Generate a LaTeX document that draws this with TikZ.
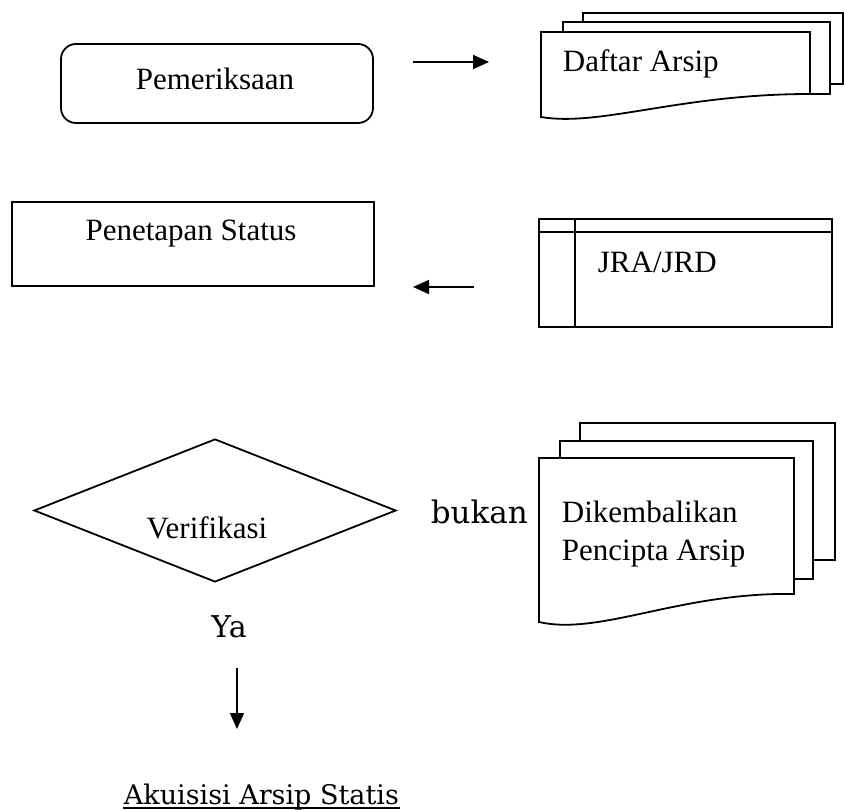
\documentclass[tikz,border=0pt]{standalone}
\usepackage{fontspec}
\setmainfont{Liberation Serif}
\newfontfamily\slabfont{DejaVu Serif}
\usetikzlibrary{arrows.meta}
\usetikzlibrary{shapes.geometric}

\begin{document}
\begin{tikzpicture}[x=1pt,y=-1pt,line width=1.8pt,>={Triangle[length=16pt,width=14pt]},
    txt/.style={inner sep=0pt,font=\fontsize{31}{38}\selectfont},
    slab/.style={inner sep=0pt,font=\fontsize{30}{36}\slabfont},
    box/.style={draw,inner sep=0pt},
    paper/.style={draw,fill=white}]
    \useasboundingbox (0,0) rectangle (844,810);

    % first row
    \node[box,rounded corners=15pt,minimum width=312pt,minimum height=79pt] (pem) at (217,83.5) {};
    \node[txt,anchor=base] (pemtxt) at (215,90) {Pemeriksaan};
    \draw[paper] (583,13) rectangle (843,84);
    \draw[paper] (563,22) rectangle (830,94);
    \draw[paper] (541,32) -- (810,32) -- (810,94) .. controls (680,94) and (600,127) .. (541,117) -- cycle;
    \node[txt,anchor=base west] (daftar) at (562,72) {Daftar Arsip};
    \coordinate (a1s) at (413,62);
    \coordinate (a1e) at (489,62);
    \draw[->] (a1s) -- (a1e);

    % second row
    \node[box,minimum width=362pt,minimum height=84pt] (penetapan) at (193,244) {};
    \node[txt,anchor=base] (pentxt) at (191,241) {Penetapan Status};
    \node[box,minimum width=293pt,minimum height=108pt] (jra) at (685.5,273) {};
    \draw ([yshift=-14pt]jra.north west) -- ([yshift=-14pt]jra.north east);
    \draw ([xshift=37pt]jra.north west) -- ([xshift=37pt]jra.south west);
    \node[txt,anchor=base west] (jratxt) at (597,273) {JRA/JRD};
    \coordinate (a2s) at (474,287);
    \coordinate (a2e) at (413,287);
    \draw[->] (a2s) -- (a2e);

    % third row
    \node[draw,diamond,minimum width=362pt,minimum height=143pt,inner sep=0pt] (verif) at (215,510.5) {};
    \node[txt,anchor=base] (veriftxt) at (207,538) {Verifikasi};
    \node[slab,font=\fontsize{31}{36}\slabfont,anchor=base west] (bukan) at (430,523) {bukan};
    \draw[paper] (580,423) rectangle (835,560);
    \draw[paper] (560,441) rectangle (813,579);
    \draw[paper] (539,458) -- (794,458) -- (794,594) .. controls (680,592) and (600,636) .. (539,622) -- cycle;
    \node[txt,anchor=base west] (dik1) at (561,522) {Dikembalikan};
    \node[txt,anchor=base west] (dik2) at (561,560) {Pencipta Arsip};

    % bottom
    \node[slab,anchor=base] (ya) at (229,637) {Ya};
    \coordinate (a3s) at (237,668);
    \coordinate (a3e) at (237,729);
    \draw[->] (a3s) -- (a3e);
    \node[slab,font=\fontsize{27}{32}\slabfont,anchor=base west] (akuisisi) at (123,804) {Akuisisi Arsip Statis};
    \draw[line width=1.5pt] ([yshift=-4pt]akuisisi.base west) -- ([yshift=-4pt]akuisisi.base east);
\end{tikzpicture}
\end{document}
